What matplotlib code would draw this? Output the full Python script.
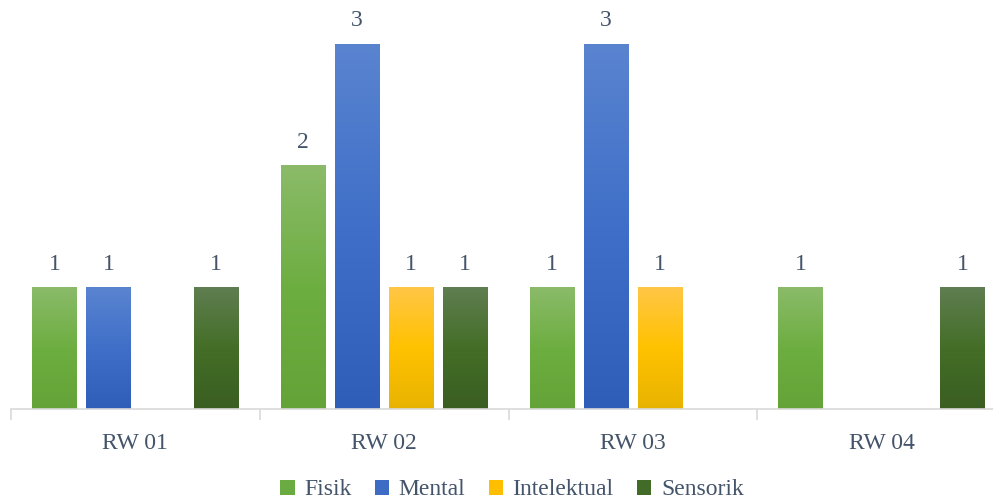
import numpy as np
import matplotlib
matplotlib.use("Agg")
import matplotlib.pyplot as plt
from matplotlib.colors import LinearSegmentedColormap
from matplotlib.patches import Patch

categories = ["RW 01", "RW 02", "RW 03", "RW 04"]
series_names = ["Fisik", "Mental", "Intelektual", "Sensorik"]
fisik = [1, 2, 1, 1]
mental = [1, 3, 3, np.nan]
intelektual = [np.nan, 1, 1, np.nan]
sensorik = [1, 1, np.nan, 1]
series_values = [fisik, mental, intelektual, sensorik]

# gradient colours (top, middle, bottom) for each series
grads = [
    ("#8bbb69", "#6dae41", "#64a337"),
    ("#5a84d0", "#3f6fc8", "#2e5eb8"),
    ("#ffc646", "#ffc200", "#e8b300"),
    ("#5f7e51", "#446e27", "#3a5e22"),
]
solid = ["#6aab42", "#3e6cc4", "#ffbe00", "#426b27"]

text_color = "#44546a"
plt.rcParams['font.family'] = ['Liberation Serif', 'DejaVu Serif']
FS = 17

fig = plt.figure(figsize=(9.93, 5.04), dpi=100)
ax = fig.add_axes([11/993, 95/504, 995/993, 402/504])

n = len(series_names)
step = 0.217
width = 0.179
x = np.arange(len(categories))

for i, (vals, g) in enumerate(zip(series_values, grads)):
    offs = (i - (n - 1) / 2) * step
    v = np.array(vals, dtype=float)
    bars = ax.bar(x + offs, np.nan_to_num(v), width=width, color="none", edgecolor="none")
    cmap = LinearSegmentedColormap.from_list("g%d" % i, [g[2], g[1], g[0]])
    for b, val in zip(bars, v):
        if np.isnan(val):
            continue
        x0, w, h = b.get_x(), b.get_width(), b.get_height()
        grad = np.linspace(0, 1, 256).reshape(-1, 1)
        im = ax.imshow(grad, extent=[x0, x0 + w, 0, h], origin="lower",
                       cmap=cmap, aspect="auto", zorder=2)
        im.set_clip_path(b)
        ax.text(x0 + w / 2, h + 0.1, "%d" % val, ha="center", va="bottom",
                fontsize=FS, color=text_color)

ax.set_xlim(-0.5, len(categories) - 0.5)
ax.set_ylim(0, 3.3)

for s in ["top", "right", "left"]:
    ax.spines[s].set_visible(False)
ax.spines["bottom"].set_color("#d9d9d9")
ax.spines["bottom"].set_linewidth(1.2)
ax.set_yticks([])
ax.set_xticks(np.arange(-0.5, len(categories)), minor=False)
ax.set_xticklabels([])
ax.tick_params(axis="x", which="major", length=8, color="#d9d9d9", width=1.2)
ax.set_xticks(x, minor=True)
ax.set_xticklabels(categories, minor=True)
ax.tick_params(axis="x", which="minor", length=0, pad=17, labelsize=FS, labelcolor=text_color)

handles = [Patch(facecolor=c, edgecolor="none") for c in solid]
fig.legend(handles, series_names, loc="lower center", bbox_to_anchor=(512/993, -0.035),
           ncol=4, frameon=False, fontsize=FS, labelcolor=text_color,
           handlelength=0.6, handleheight=0.6, handletextpad=0.4, columnspacing=1.0)

fig.savefig("out.png", dpi=100)
